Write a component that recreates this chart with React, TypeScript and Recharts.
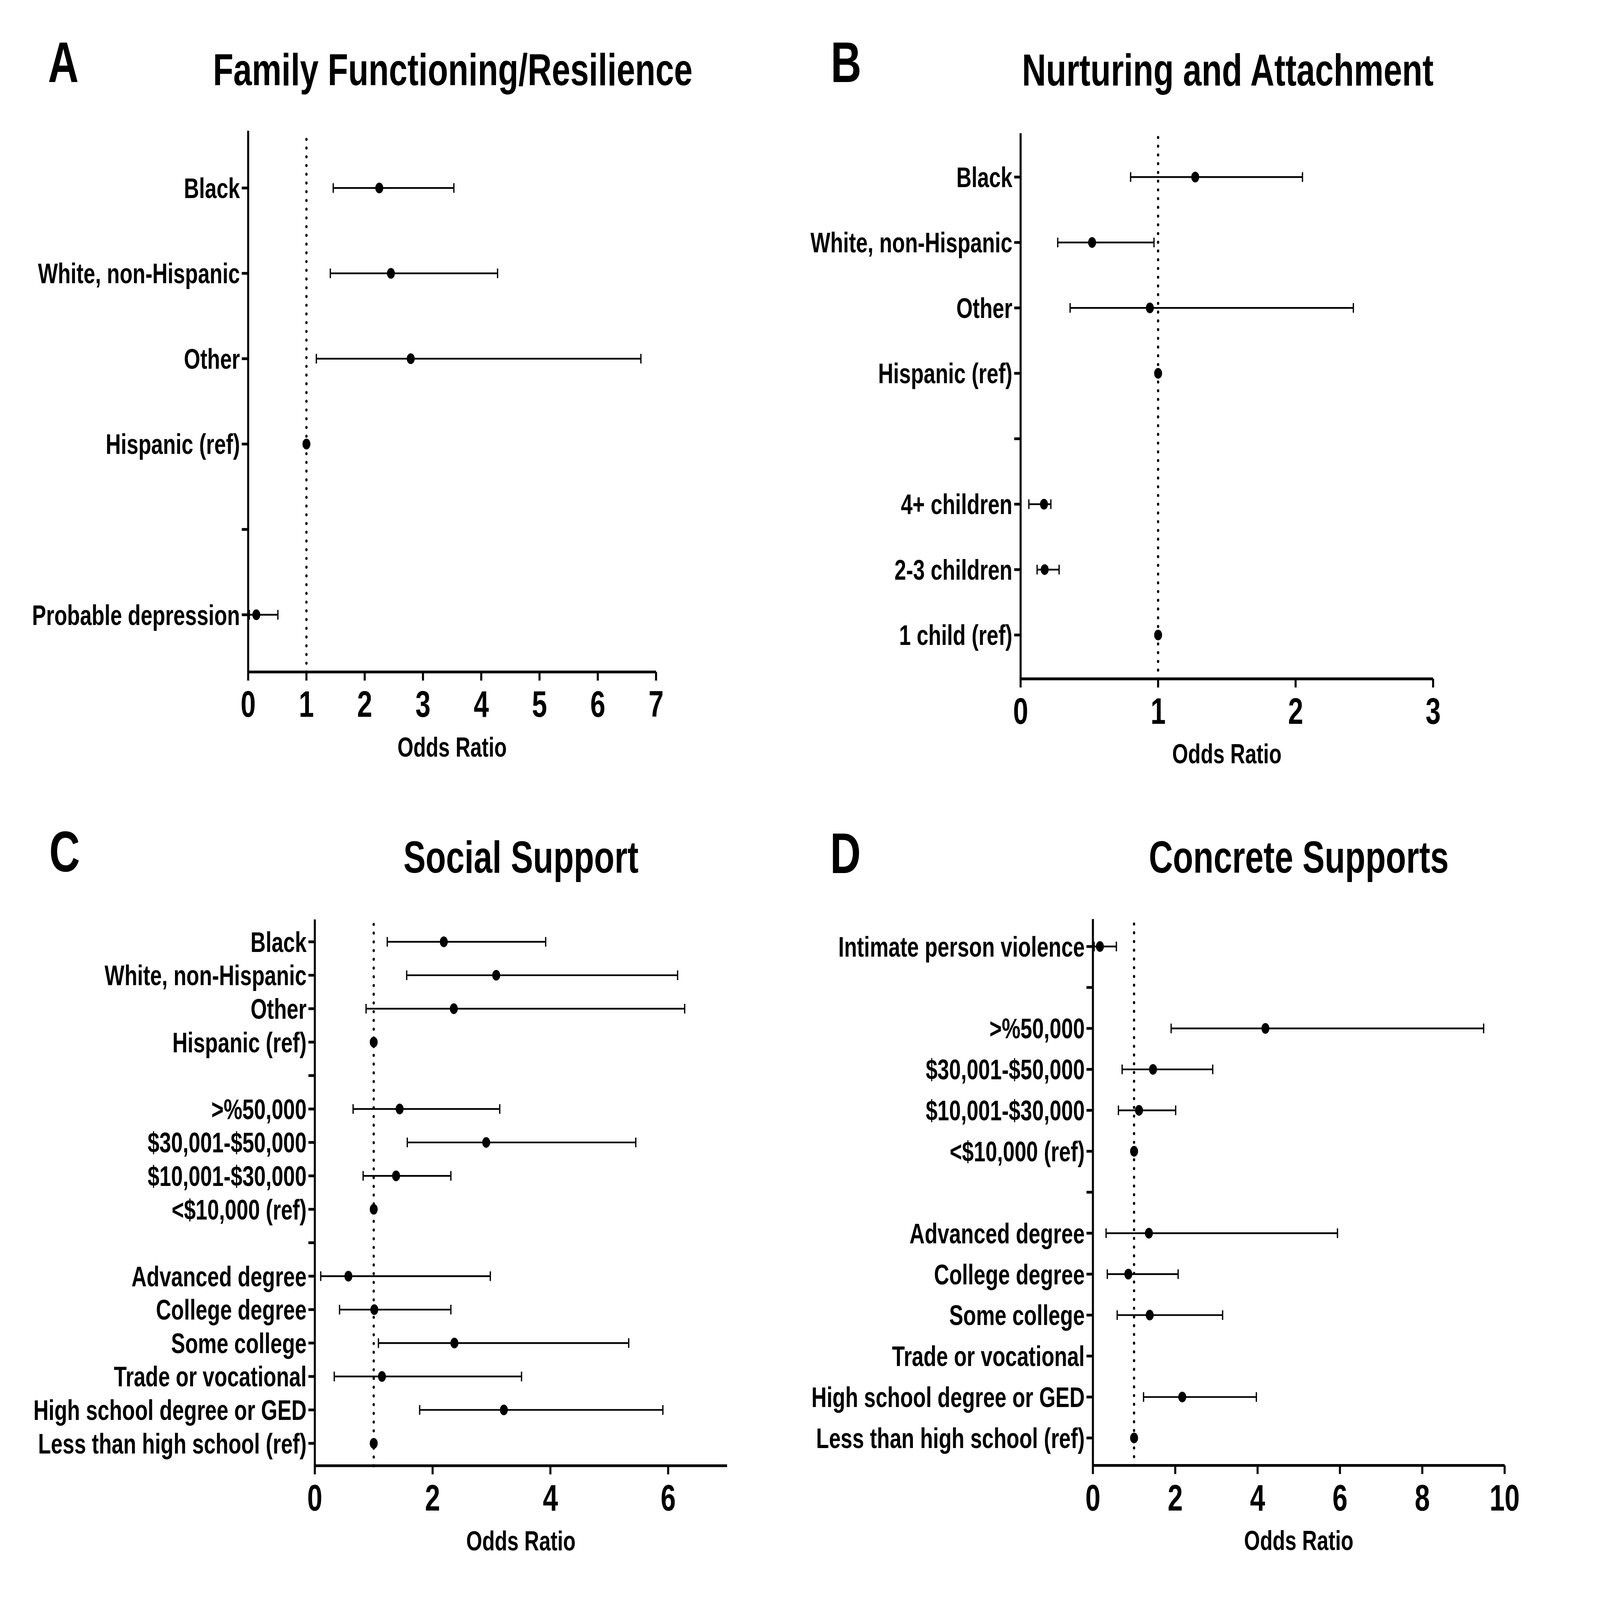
import { ScatterChart, Scatter, XAxis, YAxis, ErrorBar, ReferenceLine } from 'recharts';

const FONT = '"Liberation Sans", Arial, Helvetica, sans-serif';
const PAGE_W = 6241;
const PAGE_H = 4636;

// A: Family Functioning/Resilience
const famLabels = ['Black', 'White, non-Hispanic', 'Other', 'Hispanic (ref)', '', 'Probable depression'];
const famOR = [2.25, 2.45, 2.79, 1, null, 0.14];
const famLow = [1.46, 1.41, 1.17, null, null, 0.02];
const famHigh = [3.53, 4.28, 6.74, null, null, 0.51];
const famTicks = [0, 1, 2, 3, 4, 5, 6, 7];

// B: Nurturing and Attachment
const nurLabels = ['Black', 'White, non-Hispanic', 'Other', 'Hispanic (ref)', '', '4+ children', '2-3 children', '1 child (ref)'];
const nurOR = [1.27, 0.52, 0.94, 1, null, 0.17, 0.175, 1];
const nurLow = [0.8, 0.27, 0.36, null, null, 0.06, 0.12, null];
const nurHigh = [2.05, 0.97, 2.42, null, null, 0.22, 0.28, null];
const nurTicks = [0, 1, 2, 3];

// C: Social Support
const socLabels = [
  'Black', 'White, non-Hispanic', 'Other', 'Hispanic (ref)', '',
  '>%50,000', '$30,001-$50,000', '$10,001-$30,000', '<$10,000 (ref)', '',
  'Advanced degree', 'College degree', 'Some college', 'Trade or vocational',
  'High school degree or GED', 'Less than high school (ref)',
];
const socOR = [2.19, 3.08, 2.36, 1, null, 1.44, 2.91, 1.38, 1, null, 0.57, 1.01, 2.37, 1.14, 3.21, 1];
const socLow = [1.23, 1.56, 0.87, null, null, 0.65, 1.57, 0.82, null, null, 0.1, 0.42, 1.08, 0.33, 1.78, null];
const socHigh = [3.92, 6.16, 6.28, null, null, 3.14, 5.45, 2.31, null, null, 2.98, 2.31, 5.33, 3.51, 5.91, null];
const socTicks = [0, 2, 4, 6];

// D: Concrete Supports
const conLabels = [
  'Intimate person violence', '',
  '>%50,000', '$30,001-$50,000', '$10,001-$30,000', '<$10,000 (ref)', '',
  'Advanced degree', 'College degree', 'Some college', 'Trade or vocational',
  'High school degree or GED', 'Less than high school (ref)',
];
const conOR = [0.17, null, 4.19, 1.46, 1.12, 1, null, 1.36, 0.86, 1.38, null, 2.17, 1];
const conLow = [0.03, null, 1.9, 0.71, 0.62, null, null, 0.32, 0.35, 0.59, null, 1.23, null];
const conHigh = [0.57, null, 9.49, 2.91, 2.01, null, null, 5.94, 2.07, 3.15, null, 3.97, null];
const conTicks = [0, 2, 4, 6, 8, 10];

const XH = 260;

const Dot = (p: any) => <circle cx={p.cx} cy={p.cy} r={15.5} fill="#000" />;

type Box = { x: number; y: number; w: number; h: number };
type Plot = { l: number; t: number; r: number; b: number };

function Forest({ box, plot, labels, or, low, high, xMax, xTicks }: {
  box: Box; plot: Plot; labels: string[]; or: (number | null)[];
  low: (number | null)[]; high: (number | null)[]; xMax: number; xTicks: number[];
}) {
  const rows = labels.map((_, i) => i + 1);
  const data = labels
    .map((lab, i) => ({
      label: lab,
      row: i + 1,
      or: or[i],
      err: low[i] != null && high[i] != null ? [or[i]! - low[i]!, high[i]! - or[i]!] : undefined,
    }))
    .filter((d) => d.or != null);
  return (
    <div style={{ position: 'absolute', left: box.x, top: box.y, width: box.w, height: box.h }}>
      <ScatterChart
        width={box.w}
        height={box.h}
        margin={{ top: plot.t - box.y, right: box.x + box.w - plot.r, bottom: box.y + box.h - plot.b - XH, left: 0 }}
      >
        <XAxis
          type="number"
          dataKey="or"
          domain={[0, xMax]}
          ticks={xTicks}
          interval={0}
          allowDataOverflow
          height={XH}
          axisLine={{ stroke: '#000', strokeWidth: 8 }}
          tickLine={{ stroke: '#000', strokeWidth: 8 }}
          tickSize={25}
          tickMargin={30}
          tick={{ fill: '#000', fontSize: 106, fontWeight: 700, fontFamily: FONT }}
          label={{ value: 'Odds Ratio', position: 'insideBottom', offset: XH - 245, fill: '#000', fontSize: 80, fontWeight: 700, fontFamily: FONT }}
        />
        <YAxis
          type="number"
          dataKey="row"
          domain={[0.33, labels.length + 0.67]}
          allowDataOverflow
          reversed
          ticks={rows}
          interval={0}
          width={plot.l - box.x}
          tickFormatter={(v: number) => labels[v - 1] ?? ''}
          axisLine={{ stroke: '#000', strokeWidth: 8 }}
          tickLine={{ stroke: '#000', strokeWidth: 8 }}
          tickSize={25}
          tickMargin={7}
          tick={{ fill: '#000', fontSize: 82, fontWeight: 700, fontFamily: FONT }}
        />
        <ReferenceLine x={1} stroke="#000" strokeWidth={9} strokeDasharray="0 25.3" strokeLinecap="round" />
        <Scatter data={data} fill="#000" shape={Dot} isAnimationActive={false}>
          <ErrorBar dataKey="err" direction="x" width={14} stroke="#000" strokeWidth={5} isAnimationActive={false} />
        </Scatter>
      </ScatterChart>
    </div>
  );
}

export default function App() {
  // the browser window can be smaller than the figure; fit the figure to it
  const sx = Math.min(1, window.innerWidth / PAGE_W);
  const sy = Math.min(1, window.innerHeight / PAGE_H);
  const titleStyle = { fontFamily: FONT, fontWeight: 700, fill: '#000' };
  return (
    <div
      style={{
        position: 'absolute', left: 0, top: 0, width: PAGE_W, height: PAGE_H,
        background: '#fff', overflow: 'hidden',
        transform: `scale(${sx}, ${sy})`, transformOrigin: '0 0',
      }}
    >
      <Forest
        box={{ x: 0, y: 0, w: 3120, h: 2300 }}
        plot={{ l: 968, t: 379, r: 2559, b: 1947 }}
        labels={famLabels} or={famOR} low={famLow} high={famHigh} xMax={7} xTicks={famTicks}
      />
      <Forest
        box={{ x: 3120, y: 0, w: 3121, h: 2300 }}
        plot={{ l: 3981, t: 386, r: 5590, b: 1967 }}
        labels={nurLabels} or={nurOR} low={nurLow} high={nurHigh} xMax={3} xTicks={nurTicks}
      />
      <Forest
        box={{ x: 0, y: 2300, w: 3120, h: 2336 }}
        plot={{ l: 1228, t: 2664, r: 2836, b: 4247 }}
        labels={socLabels} or={socOR} low={socLow} high={socHigh} xMax={7} xTicks={socTicks}
      />
      <Forest
        box={{ x: 3120, y: 2300, w: 3121, h: 2336 }}
        plot={{ l: 4263, t: 2663, r: 5869, b: 4246 }}
        labels={conLabels} or={conOR} low={conLow} high={conHigh} xMax={10} xTicks={conTicks}
      />
      <svg width={PAGE_W} height={PAGE_H} style={{ position: 'absolute', left: 0, top: 0, pointerEvents: 'none' }}>
        <text x={187} y={238} fontSize={166} {...titleStyle}>A</text>
        <text x={3240} y={238} fontSize={166} {...titleStyle}>B</text>
        <text x={192} y={2525} fontSize={166} {...titleStyle}>C</text>
        <text x={3238} y={2530} fontSize={166} {...titleStyle}>D</text>
        <text x={1766} y={247} fontSize={130} textAnchor="middle" {...titleStyle}>Family Functioning/Resilience</text>
        <text x={4789} y={248} fontSize={130} textAnchor="middle" {...titleStyle}>Nurturing and Attachment</text>
        <text x={2032} y={2529} fontSize={130} textAnchor="middle" {...titleStyle}>Social Support</text>
        <text x={5066} y={2529} fontSize={130} textAnchor="middle" {...titleStyle}>Concrete Supports</text>
      </svg>
    </div>
  );
}
